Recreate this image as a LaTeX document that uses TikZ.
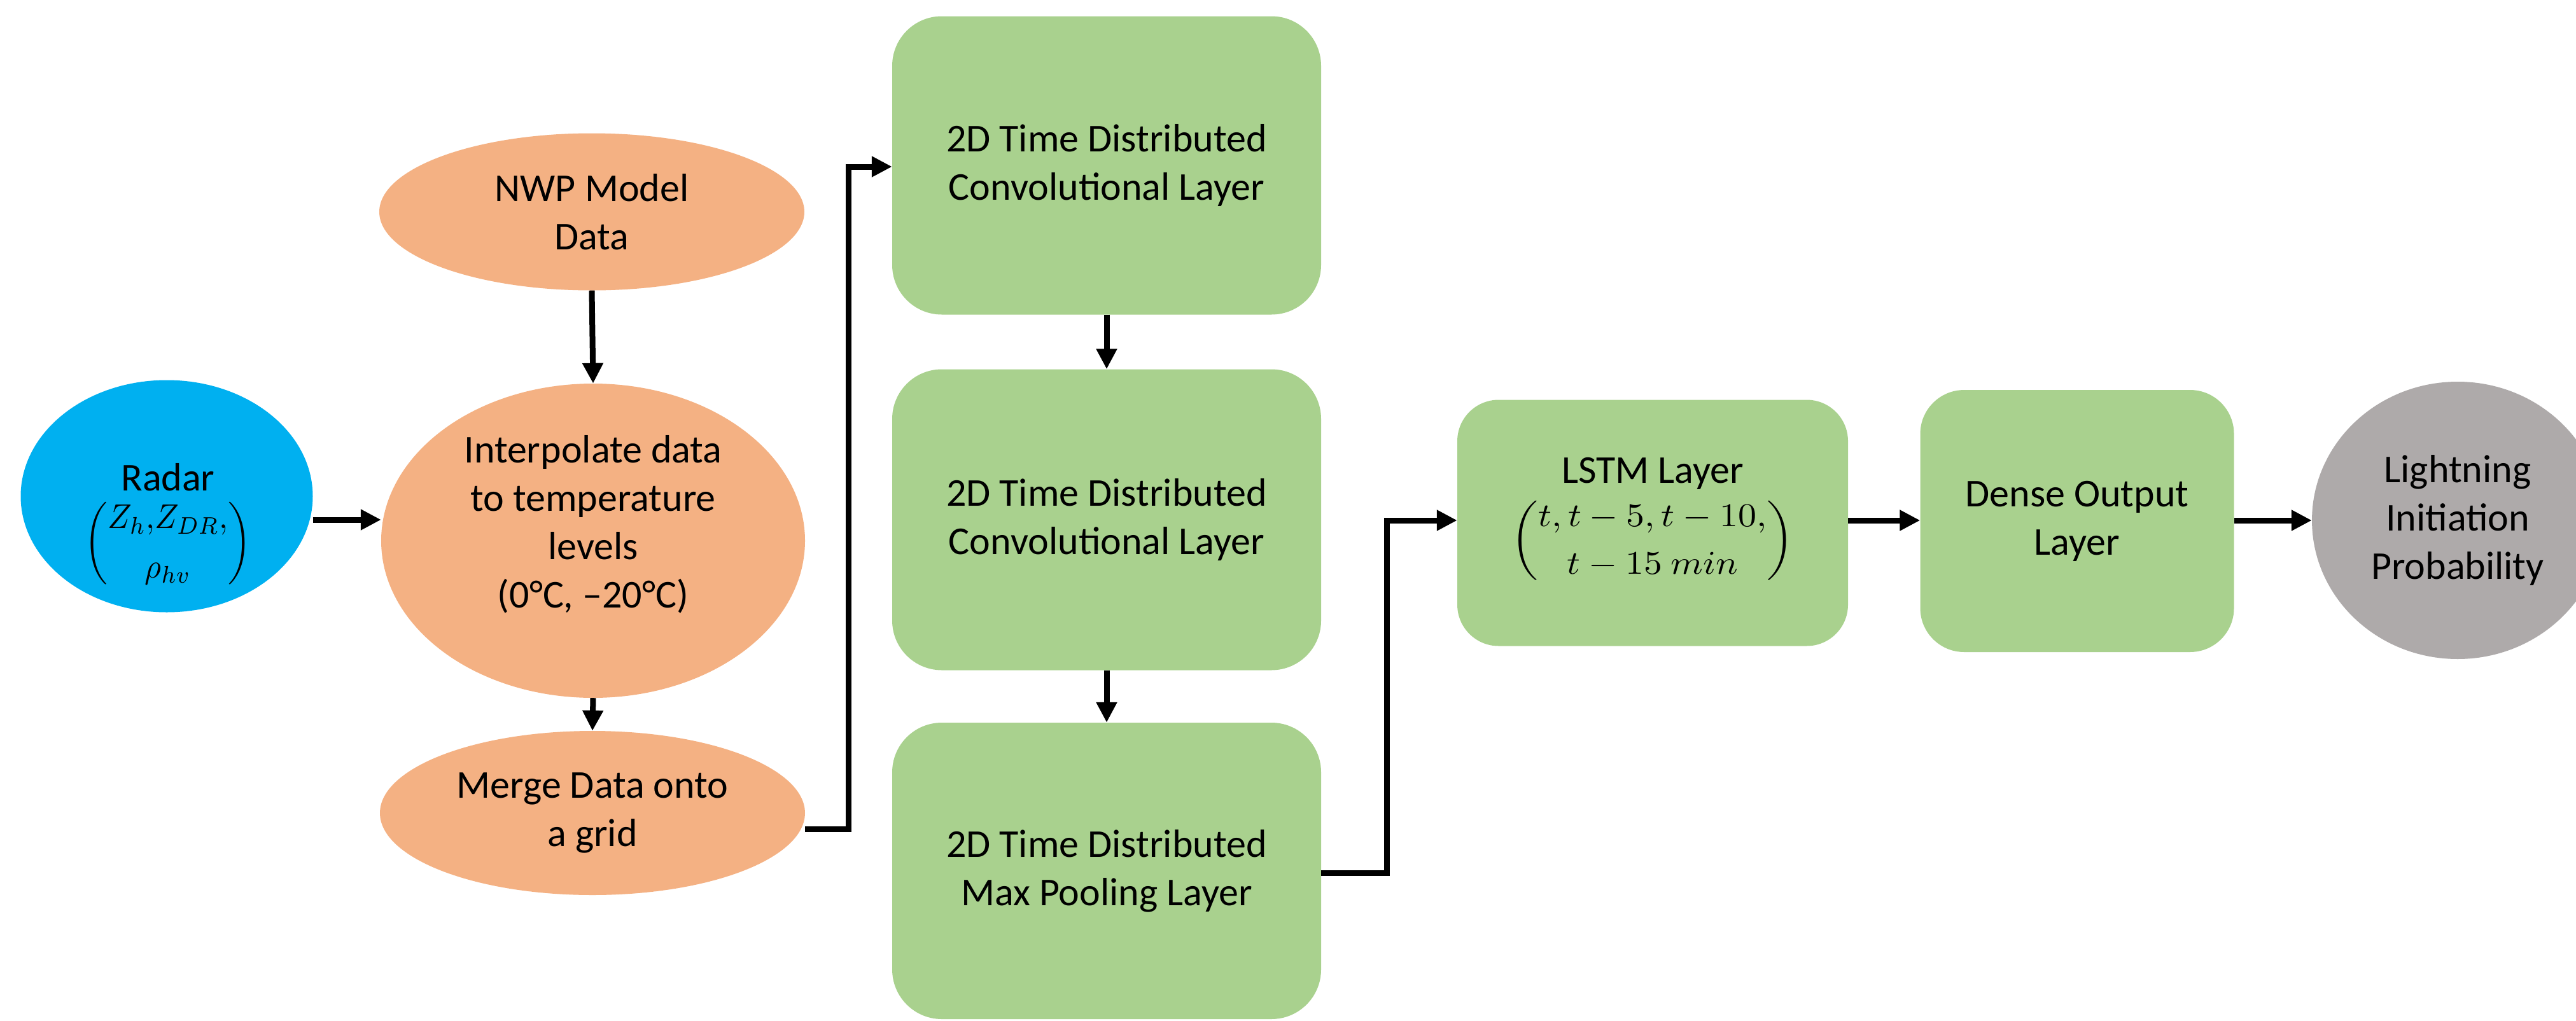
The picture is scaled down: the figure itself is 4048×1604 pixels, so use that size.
\documentclass[tikz,border=0pt]{standalone}
\usepackage{fontspec}
\usepackage{graphicx}
\setmainfont{Carlito}
\usetikzlibrary{arrows.meta,shapes.geometric}
\definecolor{cblue}{HTML}{00B0F0}
\definecolor{corange}{HTML}{F4B183}
\definecolor{cgreen}{HTML}{A9D18E}
\definecolor{cgray}{HTML}{AEAAAA}
\newcommand{\bigmath}[3]{{\fontsize{10}{12}\selectfont\renewcommand{\arraystretch}{1.2}\scalebox{#1}[#2]{$#3$}}}
\begin{document}
\begin{tikzpicture}[x=1pt,y=-1pt,
  every node/.style={font=\fontsize{62}{76}\selectfont, align=center, inner sep=0pt},
  oval/.style={ellipse, fill=corange, draw=none},
  gbox/.style={rectangle, rounded corners=#1, fill=cgreen},
  gbox/.default=75pt,
  arr/.style={line width=9pt, -{Triangle[length=32pt,width=31pt]}}
]
\useasboundingbox (0,0) rectangle (4048,1604);
\clip (0,0) rectangle (4048,1604);

% nodes
\node[ellipse, fill=cblue, minimum width=459pt, minimum height=365pt] (radar) at (262,780) {};
\node (radartxt) at (264,830) {Radar\\[4pt]\bigmath{5.0}{5.4}{\bigg(\begin{array}{@{}c@{}}Z_h{,}Z_{DR}{,}\\ \rho_{hv}\end{array}\bigg)}};

\node[oval, minimum width=668pt, minimum height=247pt] (nwp) at (930,333) {NWP Model\\Data};
\node[oval, minimum width=666pt, minimum height=494pt] (interp) at (932,850) {};
\node (interptxt) at (932,824) {Interpolate data\\to temperature\\levels\\(0°C, –20°C)};
\node[oval, minimum width=668pt, minimum height=258pt] (merge) at (931,1278) {Merge Data onto\\a grid};

\node[gbox=78pt, minimum width=674pt, minimum height=469pt] (b1) at (1739,260) {2D Time Distributed\\Convolutional Layer};
\node[gbox=78pt, minimum width=674pt, minimum height=473pt] (b2) at (1739,817) {2D Time Distributed\\Convolutional Layer};
\node[gbox=78pt, minimum width=674pt, minimum height=466pt] (b3) at (1739,1369) {2D Time Distributed\\Max Pooling Layer};

\node[gbox=65pt, minimum width=614pt, minimum height=387pt] (lstm) at (2597,822) {LSTM Layer\\[4pt]\bigmath{5.8}{5.2}{\bigg(\begin{array}{@{}c@{}}t, t-5, t-10,\\ t-15\ min\end{array}\bigg)}};
\node[gbox=69pt, minimum width=493pt, minimum height=412pt] (dense) at (3264,819) {Dense Output\\Layer};
\node[ellipse, fill=cgray, minimum width=458pt, minimum height=436pt] (out) at (3862,818) {Lightning\\Initiation\\Probability};

% helper coordinates
\coordinate (yr) at (0,817);
\coordinate (ym) at (0,1303);
\coordinate (k1) at (1333,262);
\coordinate (k2) at (2179,1372);

% connectors
\draw[arr] (radar.east |- yr) -- (interp.west |- yr);
\draw[arr] (nwp.south) -- (interp.north);
\draw[arr] (interp.south) -- (merge.north);
\draw[arr] (merge.east |- ym) -| (k1) -- (b1.west |- k1);
\draw[arr] (b1.south) -- (b2.north);
\draw[arr] (b2.south) -- (b3.north);
\draw[arr] (b3.east |- k2) -- (k2) |- (lstm.west |- 0,818);
\draw[arr] (lstm.east |- 0,818) -- (dense.west |- 0,818);
\draw[arr] (dense.east |- 0,818) -- (out.west);
\end{tikzpicture}
\end{document}
